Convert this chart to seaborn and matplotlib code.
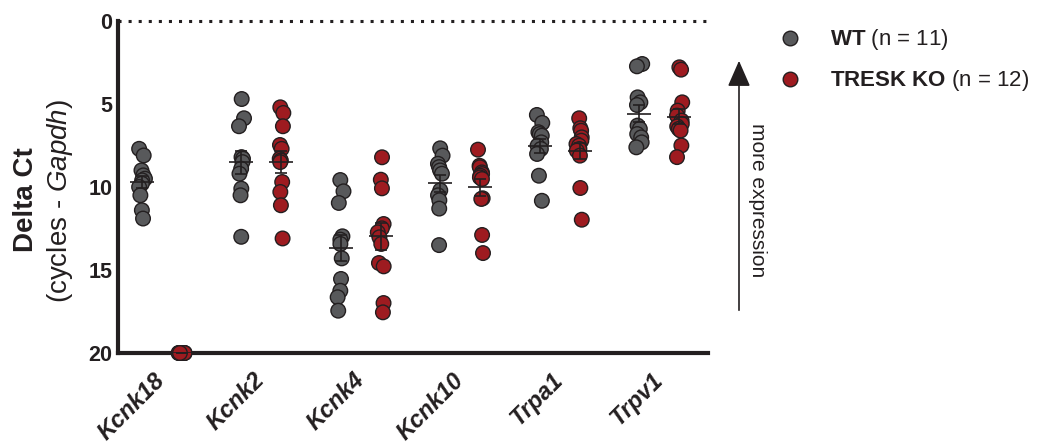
import numpy as np
import pandas as pd
import matplotlib
matplotlib.use("Agg")
import matplotlib.pyplot as plt
from matplotlib.lines import Line2D
import seaborn as sns

# %% data (Delta Ct, cycles - Gapdh)
genes = ["Kcnk18", "Kcnk2", "Kcnk4", "Kcnk10", "Trpa1", "Trpv1"]
groups = ["WT", "TRESK KO"]
group_labels = [r"$\bf{WT}$ (n = 11)", r"$\bf{TRESK\ KO}$ (n = 12)"]

wt_kcnk18 = [7.7, 8.1, 9.0, 9.3, 9.5, 9.6, 9.8, 10.0, 10.5, 11.4, 11.9]
wt_kcnk2 = [4.7, 5.86, 6.34, 8.2, 8.3, 8.5, 8.9, 9.2, 10.1, 10.5, 13.0]
wt_kcnk4 = [9.58, 10.26, 10.96, 12.97, 13.17, 13.43, 14.3, 15.54, 16.25, 16.64, 17.45]
wt_kcnk10 = [7.67, 8.11, 8.6, 8.8, 9.0, 9.2, 10.2, 10.5, 10.8, 11.3, 13.5]
wt_trpa1 = [5.66, 6.14, 6.7, 6.81, 6.91, 7.31, 7.51, 7.71, 8.01, 9.32, 10.83]
wt_trpv1 = [2.59, 2.73, 4.6, 4.9, 5.06, 6.3, 6.5, 6.81, 7.01, 7.31, 7.61]

ko_kcnk18 = [20, 20, 20, 20, 20, 20, 20, 20, 20, 20, 20, 20]
ko_kcnk2 = [5.2, 5.54, 6.34, 7.47, 7.7, 8.3, 8.4, 8.5, 9.7, 10.3, 11.1, 13.1]
ko_kcnk4 = [8.21, 9.56, 10.08, 12.23, 12.49, 12.73, 13.03, 13.43, 14.58, 14.78, 16.99, 17.55]
ko_kcnk10 = [7.75, 8.72, 8.81, 9.12, 9.22, 9.32, 9.42, 9.52, 10.68, 10.72, 12.89, 13.98]
ko_trpa1 = [5.86, 6.46, 6.61, 7.01, 7.21, 7.41, 7.51, 7.71, 7.81, 8.11, 10.06, 11.97]
ko_trpv1 = [2.79, 2.93, 4.9, 5.4, 5.7, 6.0, 6.2, 6.35, 6.5, 6.6, 7.5, 8.2]

wt_vals = [wt_kcnk18, wt_kcnk2, wt_kcnk4, wt_kcnk10, wt_trpa1, wt_trpv1]
ko_vals = [ko_kcnk18, ko_kcnk2, ko_kcnk4, ko_kcnk10, ko_trpa1, ko_trpv1]

rows = []
for g, w, k in zip(genes, wt_vals, ko_vals):
    rows += [(g, "WT", v) for v in w]
    rows += [(g, "TRESK KO", v) for v in k]
df = pd.DataFrame(rows, columns=["gene", "genotype", "dct"])

# %% style
grey = "#58595b"
red = "#9e1b20"
ink = "#231f20"

sns.set_style("white")
plt.rcParams["font.family"] = ["Liberation Sans", "DejaVu Sans"]
plt.rcParams["mathtext.fontset"] = "custom"
plt.rcParams["mathtext.rm"] = "Liberation Sans"
plt.rcParams["mathtext.it"] = "Liberation Sans:italic"
plt.rcParams["mathtext.bf"] = "Liberation Sans:bold"
plt.rcParams["text.color"] = ink

W, H = 1042, 446
fig = plt.figure(figsize=(W / 100, H / 100), dpi=100)
ax = fig.add_axes([118 / W, 1 - 353 / H, 590 / W, 332 / H])

np.random.seed(7)
sns.stripplot(data=df, x="gene", y="dct", hue="genotype", order=genes,
              hue_order=groups, palette=[grey, red], dodge=True, jitter=0.065,
              size=10.5, linewidth=1, edgecolor=ink, legend=False, ax=ax,
              clip_on=False, zorder=4)

# mean +/- SEM
stats = df.groupby(["gene", "genotype"])["dct"].agg(["mean", "sem"])
for i, g in enumerate(genes):
    for j, grp in enumerate(groups):
        m, s = stats.loc[(g, grp)]
        x = i - 0.2 if j == 0 else i + 0.2
        ax.errorbar(x, m, yerr=s, fmt="none", ecolor=ink, elinewidth=1.2,
                    capsize=4.5, capthick=1.2, zorder=5)
        ax.hlines(m, x - 0.12, x + 0.12, color=ink, lw=1.2, zorder=5)

ax.axhline(0, color=ink, lw=2.2, ls=(0, (1, 2.3)), clip_on=False, zorder=3)

ax.set_xlim(-0.44, 5.49)
ax.set_ylim(20, 0)
ax.set_yticks([0, 5, 10, 15, 20])
ax.set_xticks(range(len(genes)))
ax.set_xticklabels(genes, rotation=45, ha="right", va="center",
                   rotation_mode="anchor", fontsize=17, fontweight="bold",
                   fontstyle="italic", color=ink)
for lab in ax.get_yticklabels():
    lab.set_fontsize(15.5)
    lab.set_fontweight("bold")
    lab.set_color(ink)
ax.tick_params(axis="both", length=0)
ax.tick_params(axis="y", pad=4)
ax.tick_params(axis="x", pad=17)
ax.set_xlabel("")
ax.set_ylabel("")
sns.despine(ax=ax)
for side in ["left", "bottom"]:
    ax.spines[side].set_linewidth(3)
    ax.spines[side].set_color(ink)

fig.text(26 / W, 1 - 200 / H, "Delta Ct", rotation=90, ha="center", va="center",
         fontsize=20, fontweight="bold")
fig.text(60 / W, 1 - 201 / H, r"(cycles - $\it{Gapdh}$)", rotation=90,
         ha="center", va="center", fontsize=20)

# legend
handles = [Line2D([], [], marker="o", ls="none", markersize=10.5, markerfacecolor=c,
                  markeredgecolor=ink, markeredgewidth=1) for c in [grey, red]]
fig.legend(handles, group_labels, loc="upper left", bbox_to_anchor=(779 / W, 0.9385),
           frameon=False, fontsize=16, handlelength=1, handletextpad=1.3,
           labelspacing=0.72, borderpad=0, borderaxespad=0)

# "more expression" arrow
fig.add_artist(matplotlib.patches.FancyArrowPatch(
    (739 / W, 1 - 313 / H), (739 / W, 1 - 58 / H), transform=fig.transFigure,
    arrowstyle="-|>,head_length=0.8,head_width=0.35", mutation_scale=20,
    lw=1.2, color=ink))
fig.text(757 / W, 1 - 200 / H, "more expression", rotation=-90, ha="center",
         va="center", fontsize=15)

fig.savefig("out.png", dpi=100)
